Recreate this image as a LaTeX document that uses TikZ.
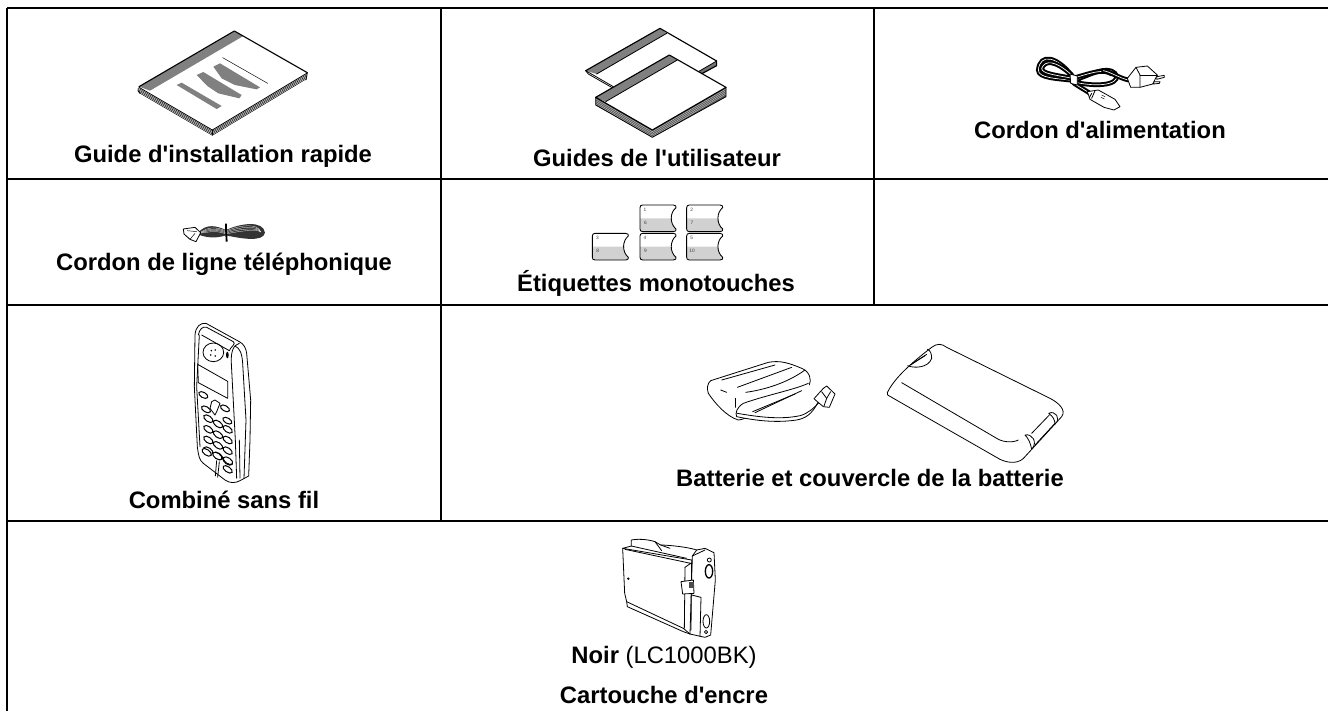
\documentclass[tikz,border=0pt]{standalone}
\usepackage{fontspec}
\setmainfont{Liberation Sans}[Ligatures=TeXOff]
\tikzset{
 gridline/.style={line width=1.5pt,black},
 lbl/.style={font=\fontsize{17.85pt}{20pt}\selectfont\bfseries,anchor=base,inner sep=0pt,text=black},
 plainlbl/.style={font=\fontsize{17.85pt}{20pt}\selectfont,anchor=base,inner sep=0pt,text=black},
 ink/.style={line width=0.6pt,black,line join=round,line cap=round},
 fine/.style={line width=0.35pt,black,line join=round,line cap=round},
 bold/.style={line width=0.85pt,black,line join=round,line cap=round},
 cable/.style={line width=1.5pt,black,double=white,double distance=0.5pt,line cap=round},
 keyoval/.style={line width=0.75pt,black,fill=white},
 tiny/.style={font=\fontsize{3.6pt}{4pt}\selectfont,text=black!75,inner sep=0pt},
 zoomed/.style={x=0.25pt,y=-0.25pt},
}
\begin{document}
\begin{tikzpicture}[x=0.75pt,y=-0.75pt]
\useasboundingbox (0,0) rectangle (1328,711);
\clip (0,0) rectangle (1328,711);
\fill[white] (0,0) rectangle (1328,711);
% grid
\draw[gridline] (7,8) -- (1328,8);
\draw[gridline] (7,179) -- (1328,179);
\draw[gridline] (7,305) -- (1328,305);
\draw[gridline] (7,521) -- (1328,521);
\draw[gridline] (7,8) -- (7,711);
\draw[gridline] (441,8) -- (441,521);
\draw[gridline] (874,8) -- (874,305);
% labels
\node[lbl] (guideA) at (223,162.5) {Guide d'installation rapide};
\node[lbl] (guideB) at (657,166.5) {Guides de l'utilisateur};
\node[lbl] (power) at (1100,138.5) {Cordon d'alimentation};
\node[lbl] (line) at (224,270) {Cordon de ligne téléphonique};
\node[lbl] (labels) at (656,291) {Étiquettes monotouches};
\node[lbl] (handset) at (224,508.5) {Combiné sans fil};
\node[lbl] (battery) at (870,486) {Batterie et couvercle de la batterie};
\node[plainlbl] (black) at (664,663.5) {\textbf{Noir} (LC1000BK)};
\node[lbl] (ink) at (664,703) {Cartouche d'encre};
% booklet 1
\begin{scope}[zoomed]
 \fill[white] (415,262) -- (703,93) -- (922,218) -- (637,390) -- cycle;
 \fill[black!50] (418,260) -- (703,95) -- (730,108) -- (450,272) -- cycle;
 \foreach \d in {4,8,12,16}{
  \draw[fine] (417,262+\d) -- (637,390+\d) -- (920,220+\d);
 }
 \draw[ink] (415,265) .. controls (413,272) .. (420,280);
 \draw[bold] (417,260) -- (703,93) -- (922,218);
 \draw[ink] (417,262) -- (637,390) -- (920,220);
 \draw[ink] (922,218) -- (918,240);
 \draw[ink] (637,390) -- (637,405);
 \fill[black!50] (530,255) -- (545,248) -- (665,318) -- (650,327) -- cycle;
 \fill[black!50] (590,225) -- (610,216) -- (725,285) -- (718,295) -- (655,280) -- (622,258) -- cycle;
 \fill[black!50] (640,200) -- (660,190) -- (780,262) -- (770,268) -- (705,255) -- (665,235) -- cycle;
 \draw[fine] (668,173) -- (803,250);
\end{scope}
% booklets 2
\begin{scope}[shift={(440,0)},zoomed]
 \fill[black!55] (830,183) -- (830,197) -- (780,226) -- (757,225) -- cycle;
 \fill[white] (437,212) -- (660,85) -- (830,183) -- (607,310) -- cycle;
 \fill[black!50] (437,212) -- (660,85) -- (680,100) -- (470,222) -- cycle;
 \draw[ink] (437,212) -- (445,222) -- (520,265);
 \draw[ink] (470,222) -- (680,100);
 \draw[ink] (437,212) -- (520,260);
 \draw[bold] (437,212) -- (660,85) -- (830,183) -- (830,197) -- (780,224);
 \draw[ink] (830,183) -- (775,215);
 % front
 \fill[black!65] (467,292) -- (637,390) -- (858,262) -- (858,290) -- (637,412) -- (467,315) -- cycle;
 \foreach \d in {5,10,...,20}{\draw[white,line width=0.12pt] (467,292+\d) -- (637,390+\d) -- (858,262+\d);}
 \fill[white] (467,292) -- (688,165) -- (858,262) -- (637,390) -- cycle;
 \fill[black!50] (467,292) -- (688,165) -- (712,180) -- (497,305) -- cycle;
 \draw[bold] (467,292) -- (688,165) -- (858,262) -- (637,390) -- cycle;
 \draw[ink] (497,305) -- (712,180);
 \draw[ink] (467,292) -- (467,315) -- (637,412) -- (858,290) -- (858,262);
\end{scope}
% power cord
\begin{scope}[shift={(1000,0)},zoomed]
 \draw[cable] (222,235) .. controls (170,165) and (120,160) .. (115,210) .. controls (115,235) and (170,235) .. (225,242);
 \draw[cable] (215,225) .. controls (165,180) and (135,180) .. (125,205) .. controls (125,222) and (170,225) .. (222,236);
 \draw[cable] (225,240) .. controls (270,225) and (320,195) .. (345,220) .. controls (365,245) and (320,265) .. (230,248);
 \draw[cable] (228,232) .. controls (270,220) and (310,205) .. (335,222);
 \draw[cable] (222,250) .. controls (240,262) and (255,270) .. (270,280);
 \draw[cable] (310,212) .. controls (330,215) and (360,235) .. (385,240);
 \draw[ink,fill=white] (210,222) -- (232,228) -- (232,255) -- (212,250) -- cycle;
 \draw[ink,fill=white] (382,235) -- (408,202) -- (442,198) -- (472,225) -- (458,252) -- (420,262) -- (392,262) -- cycle;
 \draw[ink] (408,202) -- (420,225) -- (420,262);
 \draw[ink] (420,225) -- (472,225);
 \draw[ink,fill=white] (470,230) -- (493,226) -- (493,232) -- (470,238) -- cycle;
 \draw[ink,fill=white] (462,245) -- (480,245) -- (478,250) -- (460,252) -- cycle;
 \draw[ink,fill=white] (262,275) -- (295,270) -- (345,298) -- (360,320) -- (342,330) -- (312,322) -- (270,298) -- cycle;
 \draw[ink] (285,272) -- (275,295);
 \draw[ink] (275,280) -- (268,293);
 \draw[fine] (305,285) -- (315,290);
 \draw[fine] (303,292) -- (313,297);
\end{scope}
% phone cord
\begin{scope}[shift={(140,220)},zoomed]
 \fill[black!80] (172,40) .. controls (200,8) and (230,18) .. (258,30) .. controls (300,10) and (370,0) .. (375,38) .. controls (370,68) and (300,55) .. (258,46) .. controls (230,55) and (200,55) .. (172,42) -- cycle;
 \foreach \d in {6,12,...,24}{
  \draw[white,line width=0.2pt] (178,40) .. controls (205,12+\d) and (230,18+\d/2) .. (258,30+\d/2) .. controls (300,8+\d) and (355,3+\d) .. (362,36);
 }
 \draw[bold] (258,12) -- (258,28);
 \draw[line width=1.4pt] (258,25) -- (260,65);
 \draw[ink,fill=white] (130,27) -- (165,22) -- (182,38) -- (168,65) -- (150,58) -- (132,42) -- cycle;
 \draw[fine] (142,32) -- (170,35);
 \draw[fine] (150,58) -- (165,40);
\end{scope}
% one-touch labels
\begin{scope}[shift={(500,190)},zoomed]
 \foreach \px/\py/\a/\b in {420/45/1/6,560/45/2/7,277/130/3/8,420/130/4/9,560/130/5/10}{
  \begin{scope}[shift={(\px,\py)}]
   \fill[black!18] (0,40) -- (97,40) .. controls (92,52) and (96,60) .. (108,72) -- (100,80) -- (8,80) -- (0,72) -- cycle;
   \draw[ink,line width=0.65pt] (8,0) -- (100,0) .. controls (106,0) and (110,4) .. (108,8) .. controls (90,22) and (88,55) .. (108,72) .. controls (110,76) and (106,80) .. (100,80) -- (8,80) .. controls (2,80) and (0,76) .. (0,72) -- (0,8) .. controls (0,3) and (3,0) .. (8,0) -- cycle;
   \node[tiny] (n\a) at (15,15) {\a};
   \node[tiny] (n\b) at (16,53) {\b};
  \end{scope}
 }
\end{scope}
% handset
\begin{scope}[shift={(140,220)},zoomed]
 \draw[ink,fill=white] (165,345) .. controls (167,320) and (180,308) .. (198,310) -- (298,365) .. controls (312,372) and (318,385) .. (320,400) -- (332,540) -- (330,660) -- (326,768) -- (300,782) .. controls (285,790) and (270,790) .. (255,780) -- (190,730) .. controls (178,720) and (176,710) .. (172,680) -- (163,500) -- cycle;
 \draw[ink] (175,345) .. controls (178,328) and (188,318) .. (200,322) -- (280,365) .. controls (290,372) and (270,382) .. (268,392);
 \draw[ink] (185,345) -- (268,392);
 \draw[ink] (298,370) .. controls (280,375) and (272,395) .. (274,430) -- (286,660) -- (290,775);
 \draw[ink] (285,378) .. controls (300,385) and (306,400) .. (308,430) -- (318,600) -- (312,775);
 \draw[ink] (298,660) -- (300,775);
 \draw[ink] (178,345) -- (170,500) -- (180,680);
 \draw[ink] (220,397) circle (31 and 28);
 \foreach \kx/\ky in {214/392,226/390,212/405,226/408}{\fill (\kx,\ky) circle (2.6);}
 \fill (262,405) ellipse (4 and 10);
 \draw[ink] (173,433) -- (263,484) -- (263,535) -- (175,488) -- cycle;
 \foreach \kx/\ky in {190/525,198/568,255/565,262/602}{
  \draw[keyoval,shift={(\kx,\ky)},rotate=-30] (0,0) ellipse (15 and 8);
 }
 \draw[ink] (215,545) -- (225,540) -- (240,550) -- (230,575) -- (225,585) -- (210,565) -- cycle;
 \foreach \r in {0,1,2,3}{
  \foreach \c in {0,1,2}{
   \draw[keyoval,shift={(205+29*\c,\fpeval{596+32*\r+16*\c})},rotate=-35] (0,0) ellipse (16 and 8.5);
  }
 }
 \draw[keyoval,shift={(200,697)},rotate=-35] (0,0) ellipse (16 and 8.5);
 \draw[keyoval,shift={(232,708)},rotate=-35] (0,0) ellipse (16 and 8.5);
 \draw[keyoval,shift={(264,722)},rotate=-35] (0,0) ellipse (16 and 8.5);
 \draw[keyoval,shift={(263,748)},rotate=-35] (0,0) ellipse (16 and 8);
 \draw[ink] (230,722) -- (226,768);
 \draw[ink] (238,725) -- (233,772);
\end{scope}
% battery pack
\begin{scope}[shift={(680,320)},zoomed]
 \draw[ink,fill=white] (92,182) -- (265,127) .. controls (300,120) and (330,130) .. (365,145) .. controls (390,155) and (395,180) .. (388,195) .. controls (340,225) and (270,240) .. (215,270) .. controls (210,285) and (200,297) .. (175,300) .. controls (140,290) and (105,250) .. (85,220) .. controls (80,205) and (82,190) .. (92,182) -- cycle;
 \draw[ink,fill=white] (385,190) .. controls (340,210) and (260,225) .. (190,250) .. controls (170,262) and (165,280) .. (170,290) .. controls (220,300) and (280,310) .. (350,300) .. controls (375,295) and (395,285) .. (415,245);
 \draw[ink] (172,280) .. controls (230,290) and (300,300) .. (360,287) .. controls (385,280) and (400,265) .. (420,245);
 \draw[ink] (218,275) -- (345,222);
 \draw[ink] (225,278) -- (365,212);
 \draw[ink] (125,180) -- (285,135);
 \draw[ink] (172,202) -- (335,142);
 \draw[ink] (197,217) .. controls (250,210) and (320,190) .. (375,150);
 \draw[ink] (122,210) -- (140,217);
 \draw[ink] (165,235) -- (165,262);
 \draw[ink,fill=white] (402,236) -- (430,205) -- (440,198) -- (465,222) -- (448,262) -- (430,260) -- (412,245) -- cycle;
 \draw[ink] (425,215) -- (440,235) -- (432,258);
 \draw[ink] (452,215) -- (440,235);
\end{scope}
% battery cover
\begin{scope}[shift={(960,400)},zoomed]
 \draw[ink,fill=white] (-218,-22) .. controls (-200,-60) and (-157,-103) .. (-85,-158) .. controls (-70,-170) and (-55,-170) .. (-40,-158) -- (270,-5) .. controls (295,8) and (320,30) .. (305,50) -- (195,170) .. controls (180,190) and (150,192) .. (120,178) -- (-212,-12) .. controls (-218,-15) .. (-218,-22) -- cycle;
 \draw[ink] (-175,-52) -- (110,115) .. controls (130,128) and (160,128) .. (175,120);
 \draw[ink] (215,100) -- (268,45);
 \draw[ink] (225,135) -- (285,70);
 \draw[ink,fill=white] (195,105) .. controls (215,100) and (235,125) .. (215,148) .. controls (212,130) and (205,115) .. (195,105) -- cycle;
 \draw[ink,fill=white] (266,40) .. controls (285,30) and (305,55) .. (285,72) .. controls (285,60) and (278,48) .. (266,40) -- cycle;
 \draw[ink] (-157,-103) .. controls (-140,-95) and (-95,-95) .. (-85,-125) .. controls (-85,-140) and (-90,-150) .. (-98,-152);
 \draw[ink] (-148,-105) -- (-100,-137);
 \draw[ink] (-143,-110) -- (-105,-133);
\end{scope}
% cartridge
\begin{scope}[shift={(590,480)},zoomed]
 \draw[ink,fill=white] (98,205) -- (124,198) -- (124,180) .. controls (150,175) and (180,180) .. (195,185) -- (212,195) .. controls (230,195) and (290,200) .. (320,210) -- (345,205) -- (372,218) -- (376,300) -- (362,465) -- (345,472) -- (300,462) -- (280,445) -- (110,365) -- (104,340) -- cycle;
 \draw[ink] (98,205) -- (305,240);
 \draw[ink] (105,208) -- (302,250) -- (285,262);
 \draw[ink] (124,198) -- (290,235);
 \draw[ink] (195,185) -- (215,212);
 \draw[ink] (212,195) -- (240,205);
 \draw[ink] (110,365) -- (112,380) -- (280,455) -- (300,462);
 \draw[ink] (285,262) -- (283,445);
 \draw[ink] (305,240) -- (303,450);
 \draw[ink] (320,210) -- (307,228) -- (300,462);
 \draw[ink] (305,345) -- (333,352) -- (330,470);
 \draw[ink] (307,228) -- (345,210);
 \fill (115,296) circle (4);
 \draw[ink,fill=white] (273,305) -- (310,300) -- (312,340) -- (278,342) -- cycle;
 \fill[black!70] (297,305) rectangle (312,325);
 \draw[bold,line width=1pt,fill=white] (357,274) ellipse (11 and 20);
 \draw[ink,fill=white] (349,424) ellipse (10 and 20);
 \draw[ink] (358,240) circle (6);
 \draw[ink] (348,456) circle (5);
\end{scope}
\end{tikzpicture}
\end{document}
